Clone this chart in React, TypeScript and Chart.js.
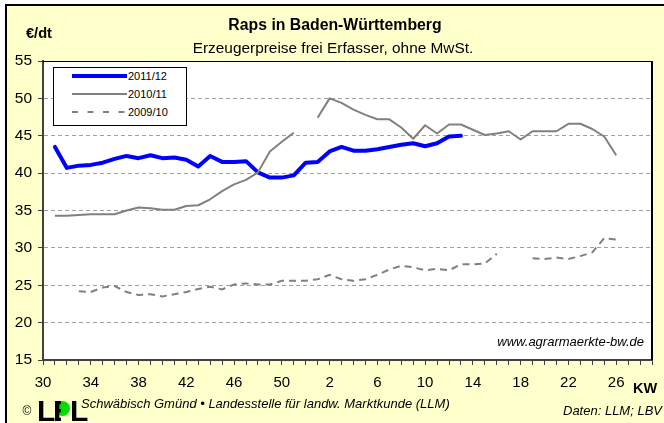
import React, { useEffect, useRef } from 'react';
import { Chart, registerables } from 'chart.js';

Chart.register(...registerables);

// Kalenderwochen (KW 30 .. 52, 1 .. 29)
const weeks: string[] = [
  '30', '31', '32', '33', '34', '35', '36', '37', '38', '39', '40', '41', '42', '43', '44', '45', '46', '47', '48', '49', '50', '51', '52',
  '1', '2', '3', '4', '5', '6', '7', '8', '9', '10', '11', '12', '13', '14', '15', '16', '17', '18', '19', '20', '21', '22', '23', '24', '25', '26', '27', '28', '29',
];

const seriesNames: string[] = ['2011/12', '2010/11', '2009/10'];

const price2011: (number | null)[] = [
  null, 43.5, 40.7, 41.0, 41.1, 41.4, 41.9, 42.3, 42.0, 42.4, 42.0, 42.1, 41.8, 40.9, 42.3, 41.5, 41.5, 41.6, 40.1, 39.4, 39.4, 39.7, 41.4,
  41.5, 42.9, 43.5, 43.0, 43.0, 43.2, 43.5, 43.8, 44.0, 43.6, 44.0, 44.9, 45.0, null, null, null, null, null, null, null, null, null, null, null, null, null, null, null, null,
];

const price2010: (number | null)[] = [
  null, 34.3, 34.3, 34.4, 34.5, 34.5, 34.5, 35.0, 35.4, 35.3, 35.1, 35.1, 35.6, 35.7, 36.5, 37.6, 38.5, 39.1, 40.1, 42.9, 44.2, 45.4, null,
  47.4, 50.0, 49.4, 48.5, 47.8, 47.2, 47.2, 46.1, 44.6, 46.4, 45.3, 46.5, 46.5, 45.8, 45.1, 45.3, 45.6, 44.5, 45.6, 45.6, 45.6, 46.6, 46.6, 45.9, 44.9, 42.4, null, null, null,
];

const price2009: (number | null)[] = [
  null, null, null, 24.2, 24.1, 24.7, 24.9, 24.1, 23.7, 23.8, 23.5, 23.8, 24.1, 24.5, 24.8, 24.45, 25.1, 25.25, 25.1, 25.1, 25.6, 25.6, 25.6,
  25.8, 26.4, 25.8, 25.6, 25.8, 26.4, 27.1, 27.6, 27.4, 27.0, 27.2, 27.0, 27.8, 27.8, 27.9, 29.2, null, null, 28.6, 28.5, 28.7, 28.5, 28.9, 29.4, 31.3, 31.1, null, null, null,
];

const FONT = '"Liberation Sans", Arial, Helvetica, sans-serif';

const plotFrame = {
  id: 'plotFrame',
  beforeDraw(chart: any) {
    const { ctx, chartArea: a } = chart;
    ctx.save();
    ctx.fillStyle = '#FFFFFF';
    ctx.fillRect(a.left, a.top, a.right - a.left, a.bottom - a.top);
    ctx.restore();
  },
  afterDraw(chart: any) {
    const { ctx, chartArea: a } = chart;
    ctx.save();
    ctx.strokeStyle = '#000000';
    ctx.lineWidth = 1;
    ctx.beginPath();
    ctx.moveTo(a.left, a.top + 0.5);
    ctx.lineTo(a.right, a.top + 0.5);
    ctx.stroke();
    ctx.lineWidth = 2;
    ctx.beginPath();
    ctx.moveTo(a.right, a.top);
    ctx.lineTo(a.right, a.bottom);
    ctx.stroke();
    ctx.restore();
  },
};

function Txt(props: { x: number; y: number; align?: 'left' | 'center' | 'right'; size: number; bold?: boolean; italic?: boolean; children: React.ReactNode }) {
  const { x, y, align = 'left', size, bold, italic, children } = props;
  const tx = align === 'center' ? '-50%' : align === 'right' ? '-100%' : '0';
  return (
    <div
      style={{
        position: 'absolute',
        left: x,
        top: y,
        transform: `translate(${tx}, -50%)`,
        fontFamily: FONT,
        fontSize: size,
        fontWeight: bold ? 'bold' : 'normal',
        fontStyle: italic ? 'italic' : 'normal',
        lineHeight: 1,
        whiteSpace: 'nowrap',
        color: '#000',
      }}
    >
      {children}
    </div>
  );
}

export default function App() {
  const ref = useRef<HTMLCanvasElement>(null);

  useEffect(() => {
    const chart = new Chart(ref.current as HTMLCanvasElement, {
      type: 'line',
      data: {
        labels: weeks,
        datasets: [
          {
            label: seriesNames[0],
            data: price2011,
            borderColor: '#0000FF',
            borderWidth: 4,
            pointRadius: 0,
            tension: 0,
            borderJoinStyle: 'round',
            borderCapStyle: 'round',
            spanGaps: false,
            order: 3,
          },
          {
            label: seriesNames[1],
            data: price2010,
            borderColor: '#808080',
            borderWidth: 2,
            pointRadius: 0,
            tension: 0,
            borderJoinStyle: 'round',
            spanGaps: false,
            order: 2,
          },
          {
            label: seriesNames[2],
            data: price2009,
            borderColor: '#808080',
            borderWidth: 2,
            borderDash: [7, 5],
            pointRadius: 0,
            tension: 0,
            spanGaps: false,
            order: 1,
          },
        ],
      },
      options: {
        responsive: false,
        animation: false,
        devicePixelRatio: 1,
        layout: { padding: { left: 0, top: 61, right: 12, bottom: 0 } },
        plugins: { legend: { display: false }, tooltip: { enabled: false } },
        scales: {
          x: {
            type: 'category',
            offset: false,
            grid: { drawOnChartArea: false, drawTicks: true, tickLength: 5, tickColor: '#404040', tickWidth: 1 },
            border: { display: true, color: '#404040', width: 2 },
            ticks: {
              autoSkip: false,
              maxRotation: 0,
              minRotation: 0,
              padding: 9,
              color: '#000000',
              font: { family: FONT, size: 15 },
              callback: (_v: any, i: number) => (i % 4 === 0 ? weeks[i] : ''),
            },
            afterFit: (s: any) => {
              s.height = 63;
            },
          },
          y: {
            min: 15,
            max: 55,
            ticks: { stepSize: 5, padding: 6, color: '#000000', font: { family: FONT, size: 15.5 } },
            grid: {
              color: (c: any) => (c.tick && (c.tick.value === 15 || c.tick.value === 55) ? 'rgba(0,0,0,0)' : '#A0A0A0'),
              lineWidth: 1,
              tickLength: 5,
              tickColor: '#404040',
              tickWidth: 1,
              tickBorderDash: [],
            },
            border: { display: true, color: '#404040', width: 2, dash: [4, 3] },
            afterFit: (s: any) => {
              s.width = 43;
            },
          },
        },
      },
      plugins: [plotFrame],
    } as any);
    return () => chart.destroy();
  }, []);

  const legendY = [9, 27, 45];

  return (
    <div style={{ position: 'fixed', left: 0, top: 0, width: 664, height: 423, background: '#FFFFFF', overflow: 'hidden' }}>
      <div
        style={{
          position: 'absolute',
          left: 5,
          top: 4,
          width: 700,
          height: 500,
          background: '#FFFFCC',
          borderTop: '2px solid #000',
          borderLeft: '2px solid #000',
          boxSizing: 'border-box',
        }}
      />
      <canvas ref={ref} width={664} height={423} style={{ position: 'absolute', left: 0, top: 0 }} />

      <Txt x={335} y={24.5} align="center" size={15.8} bold>
        Raps in Baden-Württemberg
      </Txt>
      <Txt x={333} y={48} align="center" size={15.4}>
        Erzeugerpreise frei Erfasser, ohne MwSt.
      </Txt>
      <Txt x={26} y={33} size={14.6} bold>
        €/dt
      </Txt>
      <Txt x={645} y={388} align="center" size={14.5} bold>
        KW
      </Txt>
      <Txt x={644} y={341} align="right" size={13} italic>
        www.agrarmaerkte-bw.de
      </Txt>

      {/* Legend */}
      <div
        style={{
          position: 'absolute',
          left: 53,
          top: 67,
          width: 134,
          height: 59,
          border: '1px solid #000',
          background: '#FFFFFF',
          boxSizing: 'border-box',
        }}
      >
        <svg width={134} height={59} style={{ position: 'absolute', left: -1, top: -1 }}>
          <line x1={19} y1={legendY[0]} x2={74} y2={legendY[0]} stroke="#0000FF" strokeWidth={4} />
          <line x1={19} y1={legendY[1]} x2={74} y2={legendY[1]} stroke="#808080" strokeWidth={2} />
          <line x1={19} y1={legendY[2]} x2={74} y2={legendY[2]} stroke="#808080" strokeWidth={2} strokeDasharray="6 9.5" />
        </svg>
        {seriesNames.map((n, i) => (
          <Txt key={n} x={74} y={legendY[i] - 1} size={11}>
            {n}
          </Txt>
        ))}
      </div>

      {/* Footer */}
      <Txt x={27} y={411} align="center" size={12}>
        ©
      </Txt>
      <div style={{ position: 'absolute', left: 37, top: 396, fontFamily: FONT, fontWeight: 'bold', fontSize: 30, lineHeight: 1, color: '#000' }}>L</div>
      <div style={{ position: 'absolute', left: 55, top: 401, width: 15, height: 15, borderRadius: '50%', background: '#00DD00' }} />
      <div style={{ position: 'absolute', left: 53, top: 396, fontFamily: FONT, fontWeight: 'bold', fontSize: 30, lineHeight: 1, color: '#000', clipPath: 'inset(0 60% 0 0)' }}>E</div>
      <div style={{ position: 'absolute', left: 70, top: 396, fontFamily: FONT, fontWeight: 'bold', fontSize: 30, lineHeight: 1, color: '#000' }}>L</div>
      <Txt x={81} y={403} size={13} italic>
        Schwäbisch Gmünd • Landesstelle für landw. Marktkunde (LLM)
      </Txt>
      <Txt x={662} y={410} align="right" size={13} italic>
        Daten: LLM; LBV
      </Txt>
    </div>
  );
}
